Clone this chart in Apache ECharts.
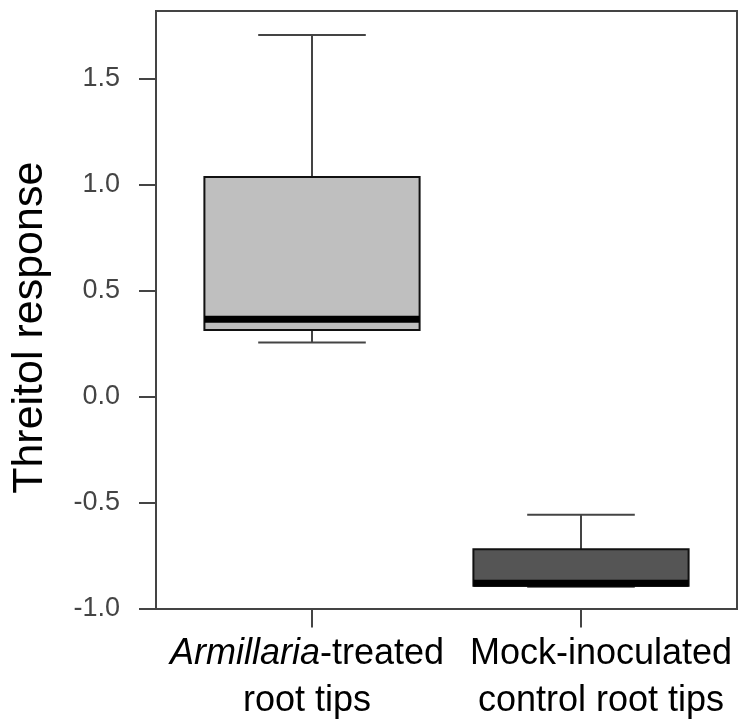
<!DOCTYPE html>
<html>
<head>
<meta charset="utf-8">
<script src="https://cdn.jsdelivr.net/npm/echarts@6/dist/echarts.min.js"></script>
<style>
  html, body { margin: 0; padding: 0; background: #fff; }
  #chart { width: 738px; height: 719px; }
</style>
</head>
<body>
<div id="chart"></div>
<script>
// box plot values
const categories = ['Armillaria-treated root tips', 'Mock-inoculated control root tips'];
const lowWhisker = [0.256, -0.897];
const q1 = [0.315, -0.893];
const median = [0.365, -0.881];
const q3 = [1.036, -0.72];
const highWhisker = [1.707, -0.558];
const boxColors = ['#bfbfbf', '#555555'];
const yTicks = [-1, -0.5, 0, 0.5, 1, 1.5];

const chart = echarts.init(document.getElementById('chart'));

const seriesData = categories.map((c, i) => [i, lowWhisker[i], q1[i], median[i], q3[i], highWhisker[i]]);

function renderBox(params, api) {
  const idx = api.value(0);
  const x = Math.round(api.coord([idx, 0])[0]);
  const yMin = api.coord([idx, api.value(1)])[1];
  const yQ1 = api.coord([idx, api.value(2)])[1];
  const yMed = api.coord([idx, api.value(3)])[1];
  const yQ3 = api.coord([idx, api.value(4)])[1];
  const yMax = api.coord([idx, api.value(5)])[1];
  const boxW = api.size([1, 0])[0] * 0.8;
  const capW = boxW / 2;
  const whisker = { stroke: '#444', lineWidth: 2 };
  return {
    type: 'group',
    children: [
      { type: 'line', shape: { x1: x, y1: yMax, x2: x, y2: yQ3 }, style: whisker },
      { type: 'line', shape: { x1: x, y1: yQ1, x2: x, y2: yMin }, style: whisker },
      { type: 'line', shape: { x1: x - capW / 2, y1: yMax, x2: x + capW / 2, y2: yMax }, style: whisker },
      { type: 'line', shape: { x1: x - capW / 2, y1: yMin, x2: x + capW / 2, y2: yMin }, style: whisker },
      {
        type: 'rect',
        shape: { x: x - boxW / 2, y: yQ3, width: boxW, height: yQ1 - yQ3 },
        style: { fill: boxColors[idx], stroke: '#111', lineWidth: 2 }
      },
      {
        type: 'rect',
        shape: { x: x - boxW / 2, y: yMed - 3.5, width: boxW, height: 7 },
        style: { fill: '#000' }
      }
    ]
  };
}

const option = {
  backgroundColor: '#fff',
  animation: false,
  grid: [
    // frame
    { left: 156, top: 11, width: 581, height: 598, show: true, borderColor: '#444', borderWidth: 2 },
    // data area (narrower than the frame)
    { left: 177.5, top: 11, width: 538, height: 598 }
  ],
  xAxis: [
    { gridIndex: 0, type: 'value', show: false },
    {
      gridIndex: 1,
      type: 'category',
      data: categories,
      axisLine: { show: false, onZero: false },
      axisTick: { show: true, alignWithLabel: true, length: 19, lineStyle: { color: '#444', width: 2 } },
      axisLabel: {
        margin: 22,
        interval: 0,
        formatter: (v, i) => i === 0
          ? '{ai|Armillaria}{a|-treated}\n{a|root tips}'
          : '{b|Mock-inoculated}\n{b|control root tips}',
        rich: {
          ai: { fontFamily: 'Liberation Sans', fontStyle: 'italic', fontSize: 36, color: '#000', lineHeight: 47 },
          a: { fontFamily: 'Liberation Sans', fontSize: 36, color: '#000', lineHeight: 47, padding: [0, 10, 0, 0] },
          b: { fontFamily: 'Liberation Sans', fontSize: 36, color: '#000', lineHeight: 47, padding: [0, 0, 0, 40] }
        }
      }
    }
  ],
  yAxis: [
    { gridIndex: 0, type: 'value', show: false },
    {
      gridIndex: 1,
      type: 'value',
      min: -1,
      max: 1.82,
      interval: 0.5,
      offset: 21.5,
      name: 'Threitol response',
      nameLocation: 'middle',
      nameRotate: 90,
      nameGap: 104,
      nameTextStyle: { fontFamily: 'Liberation Sans', fontSize: 43, color: '#000', padding: [0, 36, 0, 0] },
      splitLine: { show: false },
      axisLine: { show: true, lineStyle: { color: '#444', width: 2 } },
      axisTick: { show: true, length: 17, customValues: yTicks, lineStyle: { color: '#444', width: 2 } },
      axisLabel: {
        customValues: yTicks,
        margin: 36,
        fontFamily: 'Liberation Sans',
        fontSize: 27,
        color: '#444',
        formatter: v => v.toFixed(1)
      }
    }
  ],
  series: [
    {
      type: 'custom',
      xAxisIndex: 1,
      yAxisIndex: 1,
      renderItem: renderBox,
      encode: { x: 0, y: [1, 2, 3, 4, 5] },
      data: seriesData
    }
  ]
};

chart.setOption(option);
</script>
</body>
</html>
